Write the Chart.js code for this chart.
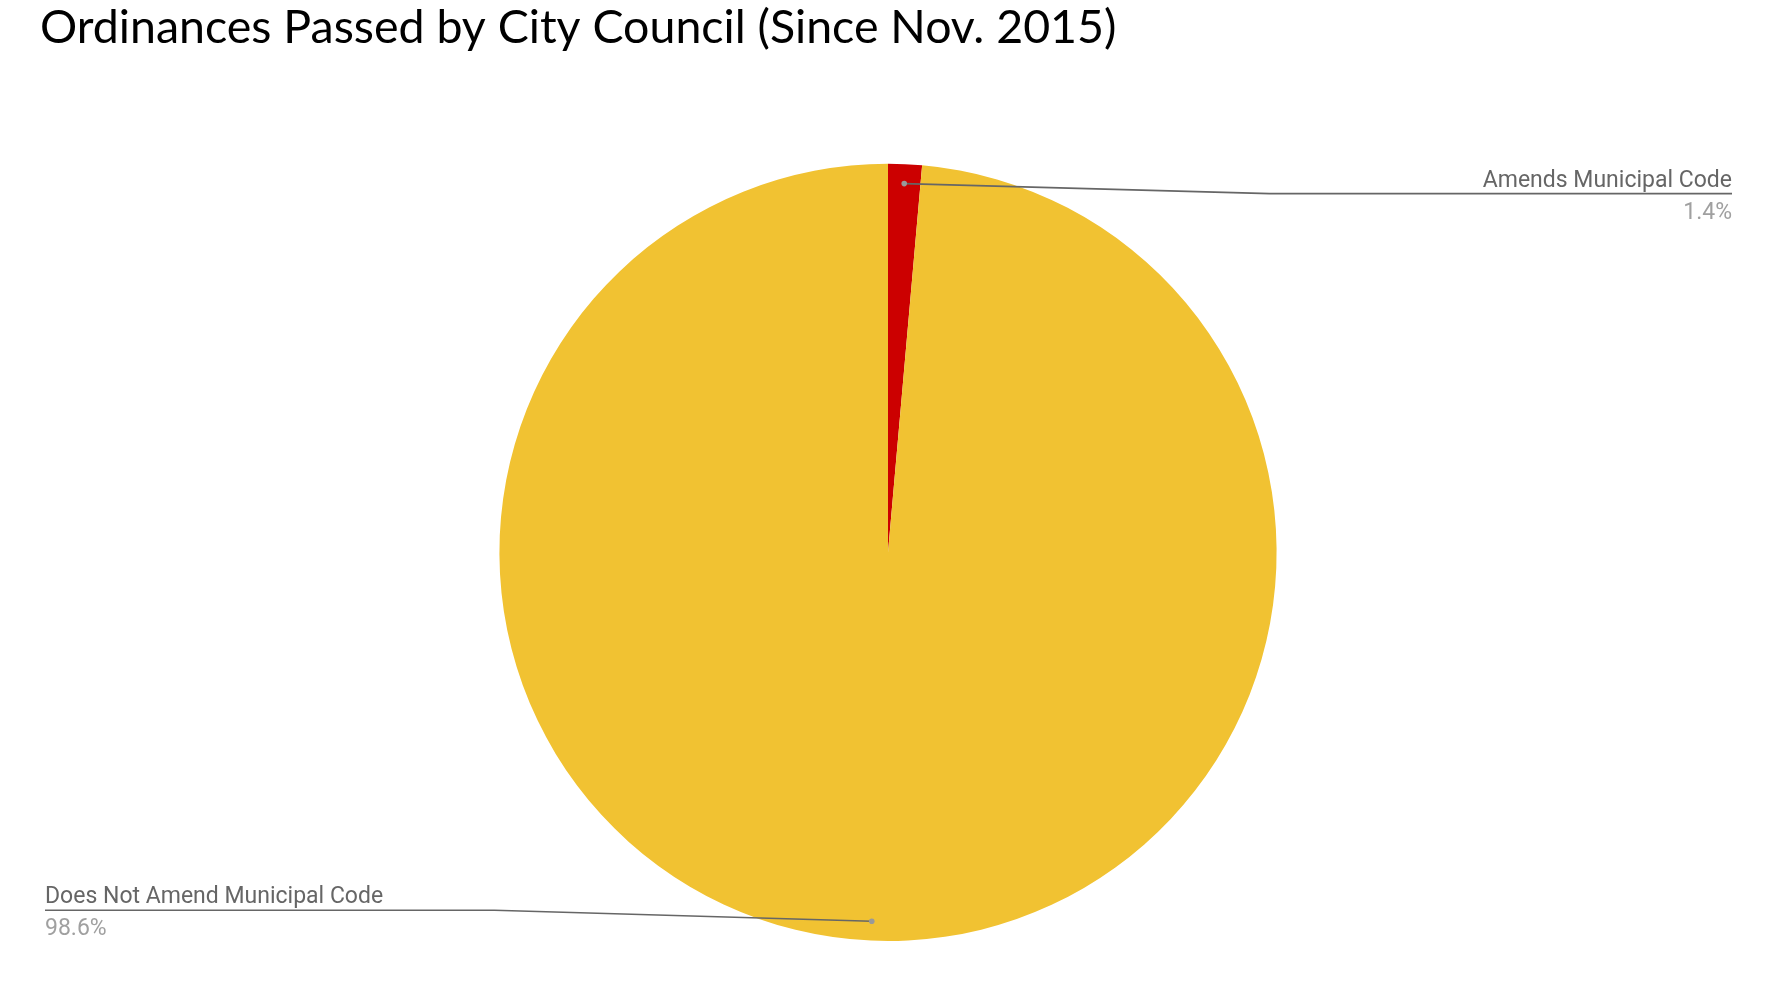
<!DOCTYPE html>
<html>
<head>
<meta charset="utf-8">
<title>Ordinances Passed by City Council</title>
<script src="https://cdn.jsdelivr.net/npm/chart.js@4.4.1/dist/chart.umd.min.js"></script>
<style>
  html, body { margin: 0; padding: 0; background: #ffffff; }
  #wrap { width: 1776px; height: 986px; }
</style>
</head>
<body>
<div id="wrap"><canvas id="myChart"></canvas></div>
<script>
// chart data
const categories = ['Amends Municipal Code', 'Does Not Amend Municipal Code'];
const shares = [1.4, 98.6];
const sliceColors = ['#cc0000', '#f1c232'];

// leader line labels, drawn after the pie
const leaderLabels = {
    id: 'leaderLabels',
    afterDraw(chart) {
        const ctx = chart.ctx;
        const meta = chart.getDatasetMeta(0);
        const values = chart.data.datasets[0].data;
        const total = values.reduce((a, b) => a + b, 0);

        meta.data.forEach((arc, i) => {
            const p = arc.getProps(['x', 'y', 'startAngle', 'endAngle', 'outerRadius'], true);
            const mid = (p.startAngle + p.endAngle) / 2;
            const dotX = p.x + Math.cos(mid) * p.outerRadius * 0.95;
            const dotY = p.y + Math.sin(mid) * p.outerRadius * 0.95;
            const right = Math.cos(mid) >= 0;
            const lineY = right ? dotY + 10 : dotY - 11;
            const bendX = right ? p.x + p.outerRadius - 7 : p.x - p.outerRadius - 5;
            const endX = right ? chart.width - 44 : 45;

            ctx.save();
            ctx.strokeStyle = '#666666';
            ctx.lineWidth = 1.6;
            ctx.beginPath();
            ctx.moveTo(dotX, dotY);
            ctx.lineTo(bendX, lineY);
            ctx.lineTo(endX, lineY);
            ctx.stroke();

            ctx.fillStyle = '#999999';
            ctx.beginPath();
            ctx.arc(dotX, dotY, 2.8, 0, Math.PI * 2);
            ctx.fill();

            ctx.textAlign = right ? 'right' : 'left';
            ctx.textBaseline = 'alphabetic';
            ctx.font = '23px Roboto';
            ctx.fillStyle = '#666666';
            ctx.fillText(chart.data.labels[i], endX, lineY - 7);
            ctx.fillStyle = '#a0a0a0';
            ctx.fillText((values[i] / total * 100).toFixed(1) + '%', endX, lineY + 25);
            ctx.restore();
        });
    }
};

const ctxPie = document.getElementById('myChart').getContext('2d');
const pieChart = new Chart(ctxPie, {
    type: 'pie',
    data: {
        labels: categories,
        datasets: [{
            data: shares,
            backgroundColor: sliceColors,
            borderWidth: 0
        }]
    },
    options: {
        responsive: true,
        maintainAspectRatio: false,
        animation: false,
        layout: {
            padding: { top: 0, bottom: 45, left: 40, right: 40 }
        },
        plugins: {
            legend: { display: false },
            tooltip: { enabled: false },
            title: {
                display: true,
                text: 'Ordinances Passed by City Council (Since Nov. 2015)',
                align: 'start',
                color: '#000000',
                font: { family: 'Lato', size: 46.5, weight: 'normal' },
                padding: { top: 0, bottom: 108 }
            }
        }
    },
    plugins: [leaderLabels]
});
</script>
</body>
</html>
